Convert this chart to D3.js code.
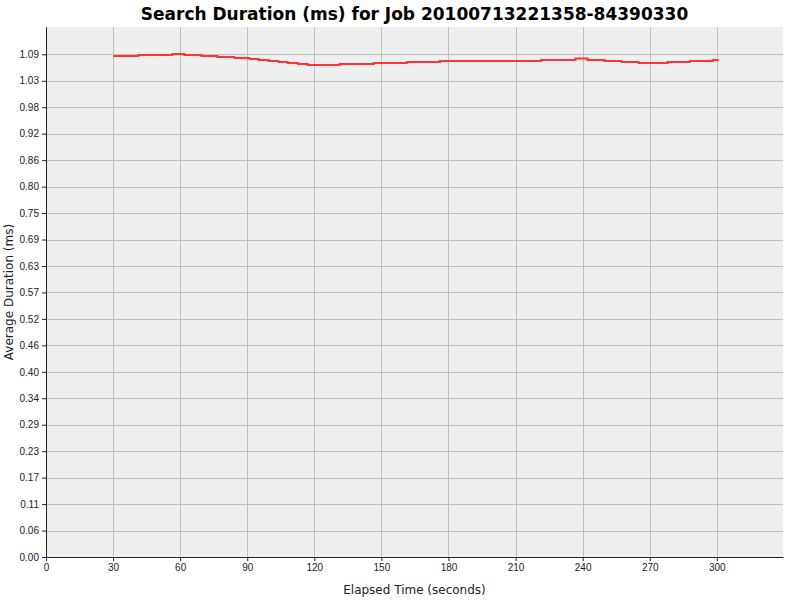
<!DOCTYPE html>
<html>
<head>
<meta charset="utf-8">
<script src="https://cdn.jsdelivr.net/npm/d3@7"></script>
<style>
  body { margin: 0; background: #ffffff; }
  svg { display: block; font-family: "DejaVu Sans", sans-serif; }
  .eje text { font-size: 10px; fill: #222; }
</style>
</head>
<body>
<div class="chart-container"></div>
<script>
const width = 800;
const height = 600;
const margin = {
    top: 27,
    bottom: 43,
    right: 17,
    left: 46,
};

// step points: time (s) where each level starts
const tiempos = [30, 41.3, 56.5, 61.9, 69.5, 76.7, 84.3, 91.0, 95.1, 99.6, 104.0, 108.1, 112.6, 117.0,
                 131.4, 146.6, 161.4, 176.2, 221.5, 236.8, 242.2, 249.8, 257.4, 265.0, 278.0, 287.9, 298.2, 300.9];
const duraciones = [1.0875, 1.0897, 1.0918, 1.0897, 1.0875, 1.0853, 1.0832, 1.0810, 1.0788, 1.0767, 1.0745, 1.0723, 1.0700, 1.0680,
                    1.0700, 1.0723, 1.0745, 1.0767, 1.0788, 1.0818, 1.0788, 1.0767, 1.0745, 1.0723, 1.0745, 1.0767, 1.0788, 1.0788];

const xTicks = [0, 30, 60, 90, 120, 150, 180, 210, 240, 270, 300];
const yTickLabels = ["0.00", "0.06", "0.11", "0.17", "0.23", "0.29", "0.34", "0.40", "0.46", "0.52",
                     "0.57", "0.63", "0.69", "0.75", "0.80", "0.86", "0.92", "0.98", "1.03", "1.09"];
const yTickStep = 0.05742;
const xMax = 329.6;
const yMax = 1.1503;

const datos = tiempos.map((t, i) => ({tiempo: t, valor: duraciones[i]}));

const svg = d3.select('.chart-container')
              .append('svg')
              .attr('width', width)
              .attr('height', height);

const plotW = width - margin.left - margin.right;
const plotH = height - margin.top - margin.bottom;

const escalaX = d3.scaleLinear().domain([0, xMax]).range([0, plotW]);
const escalaY = d3.scaleLinear().domain([0, yMax]).range([plotH, 0]);

const chart = svg.append('g')
                 .attr('transform', `translate(${margin.left}, ${margin.top})`);

chart.append('rect')
     .attr('width', plotW)
     .attr('height', plotH)
     .attr('fill', '#efefef');

const yValores = yTickLabels.map((_, i) => i * yTickStep);

// grid
chart.append('g')
     .selectAll('line')
     .data(xTicks)
     .join('line')
     .attr('x1', (d) => Math.round(escalaX(d)) + 0.5)
     .attr('x2', (d) => Math.round(escalaX(d)) + 0.5)
     .attr('y1', 0)
     .attr('y2', plotH)
     .attr('stroke', '#c0c0c0');

chart.append('g')
     .selectAll('line')
     .data(yValores)
     .join('line')
     .attr('x1', 0)
     .attr('x2', plotW)
     .attr('y1', (d) => Math.round(escalaY(d)) + 0.5)
     .attr('y2', (d) => Math.round(escalaY(d)) + 0.5)
     .attr('stroke', '#c0c0c0');

// line
const linea = d3.line()
    .curve(d3.curveStepAfter)
    .x((d) => escalaX(d.tiempo))
    .y((d) => escalaY(d.valor));

chart.append('path')
     .datum(datos)
     .attr('d', linea)
     .attr('fill', 'none')
     .attr('stroke', '#ff3333')
     .attr('stroke-width', 2);

// axes
const ejeX = d3.axisBottom(escalaX)
               .tickValues(xTicks)
               .tickSize(4)
               .tickSizeOuter(0)
               .tickPadding(3);

const ejeY = d3.axisLeft(escalaY)
               .tickValues(yValores)
               .tickFormat((d, i) => yTickLabels[i])
               .tickSize(4)
               .tickSizeOuter(0)
               .tickPadding(3);

const contenedorEjex = chart.append('g')
                            .attr('class', 'eje')
                            .attr('transform', `translate(0, ${plotH})`)
                            .call(ejeX);

const contenedorEjey = chart.append('g')
                            .attr('class', 'eje')
                            .call(ejeY);

[contenedorEjex, contenedorEjey].forEach((c) => {
    c.select('.domain').attr('stroke', '#222');
    c.selectAll('.tick line').attr('stroke', '#222');
});

// labels
svg.append('text')
   .attr('x', margin.left + plotW / 2)
   .attr('y', 20)
   .attr('text-anchor', 'middle')
   .attr('font-size', 17)
   .attr('font-weight', 'bold')
   .attr('fill', '#000')
   .text('Search Duration (ms) for Job 20100713221358-84390330');

svg.append('text')
   .attr('x', margin.left + plotW / 2)
   .attr('y', 594)
   .attr('text-anchor', 'middle')
   .attr('font-size', 12)
   .attr('fill', '#222')
   .text('Elapsed Time (seconds)');

svg.append('text')
   .attr('transform', `translate(13, ${margin.top + plotH / 2}) rotate(-90)`)
   .attr('text-anchor', 'middle')
   .attr('font-size', 12)
   .attr('fill', '#222')
   .text('Average Duration (ms)');
</script>
</body>
</html>
